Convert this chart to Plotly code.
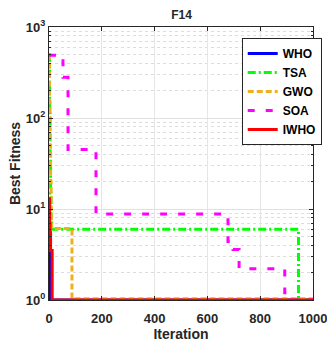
import plotly.graph_objects as go

# Data (iteration breakpoints, best fitness) - step curves
who_it = [0, 1, 2, 3, 4, 1000]
who_val = [12.0, 8.0, 4.0, 2.0, 1.0, 1.0]

tsa_it = [0, 2, 4, 6, 8, 10, 940, 945, 1000]
tsa_val = [500.0, 120.0, 40.0, 15.0, 7.0, 6.0, 6.0, 1.0, 1.0]

gwo_it = [0, 2, 4, 6, 8, 10, 87, 1000]
gwo_val = [500.0, 150.0, 50.0, 20.0, 8.0, 6.1, 1.03, 1.03]

soa_it = [0, 53, 72, 178, 678, 697, 720, 893, 905, 1000]
soa_val = [490.0, 280.0, 45.0, 8.8, 4.4, 3.6, 2.2, 1.2, 1.0, 1.0]

iwho_it = [0, 2, 4, 6, 12, 1000]
iwho_val = [13.0, 7.0, 5.5, 3.5, 1.0, 1.0]

names = ["WHO", "TSA", "GWO", "SOA", "IWHO"]
colors = ["#0000FF", "#00FF00", "#EDB120", "#FF00FF", "#FF0000"]
dashes = ["solid", "8px,3px,2px,3px", "6px,3px", "7px,11px", "solid"]
series = [(who_it, who_val), (tsa_it, tsa_val), (gwo_it, gwo_val),
          (soa_it, soa_val), (iwho_it, iwho_val)]

fig = go.Figure()
for n, c, d, (xs, ys) in zip(names, colors, dashes, series):
    fig.add_trace(go.Scatter(x=xs, y=ys, mode="lines", name="<b>" + n + "</b>",
                             line=dict(color=c, width=3, dash=d, shape="hv")))

FAM = "Liberation Sans, Arial"

fig.update_layout(
    width=327, height=344,
    margin=dict(l=49, r=14, t=27, b=44, autoexpand=False),
    paper_bgcolor="white", plot_bgcolor="white",
    title=dict(text="<b>F14</b>", x=0.555, xanchor="center", y=0.956, yanchor="middle",
               font=dict(family=FAM, size=12, color="#262626")),
    font=dict(family=FAM, size=12, color="#262626"),
    showlegend=True,
    legend=dict(x=0.73, y=0.96, xanchor="left", yanchor="top",
                bgcolor="white", bordercolor="#262626", borderwidth=1,
                font=dict(family=FAM, size=12, color="black"),
                tracegroupgap=0, itemwidth=30),
)
fig.update_xaxes(
    range=[0, 1000], tickvals=[0, 200, 400, 600, 800, 1000],
    ticktext=["<b>0</b>", "<b>200</b>", "<b>400</b>", "<b>600</b>", "<b>800</b>", "<b>1000</b>"],
    showline=True, linecolor="#262626", linewidth=1, mirror="ticks",
    ticks="inside", ticklen=4, tickcolor="#262626", automargin=False,
    ticklabelstandoff=6, ticklabeloverflow="allow",
    showgrid=True, gridcolor="#E6E6E6", gridwidth=1, zeroline=False,
    title=dict(text="<b>Iteration</b>", font=dict(size=14), standoff=4),
    tickfont=dict(size=13),
)
fig.update_yaxes(
    type="log", range=[0, 3], tickvals=[1, 10, 100, 1000],
    ticktext=["<b>10<sup>0</sup></b>", "<b>10<sup>1</sup></b>", "<b>10<sup>2</sup></b>", "<b>10<sup>3</sup></b>"],
    showline=True, linecolor="#262626", linewidth=1, mirror="ticks",
    ticks="inside", ticklen=4, tickcolor="#262626", automargin=False,
    ticklabeloverflow="allow",
    showgrid=True, gridcolor="#E0E0E0", gridwidth=1, zeroline=False,
    minor=dict(tickvals=[v * m for m in (1, 10, 100) for v in range(2, 10)],
               ticks="inside", ticklen=2, tickcolor="#262626",
               showgrid=True, gridcolor="#DCDCDC", griddash="dot", gridwidth=1),
    title=dict(text="<b>Best Fitness</b>", font=dict(size=14), standoff=1),
    tickfont=dict(size=13),
)

fig.write_html("out.html")
